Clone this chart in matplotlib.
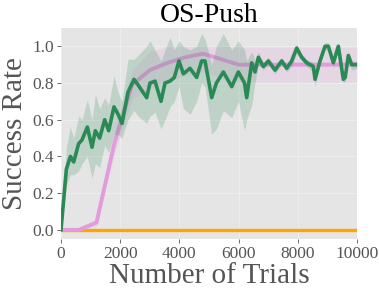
import numpy as np
import matplotlib
matplotlib.use("Agg")
import matplotlib.pyplot as plt

# ---- data ----
green_x = [0, 180, 316, 428, 597, 709, 889, 1047, 1160, 1306, 1475, 1610, 1790, 1926, 2061,
           2263, 2466, 2601, 2894, 3007, 3176, 3378, 3514, 3682, 3828, 3986, 4133, 4358, 4583,
           4750, 4865, 5090, 5250, 5484, 5766, 5991, 6200, 6273, 6442, 6554, 6667, 6836, 7005,
           7230, 7455, 7624, 7793, 7962, 8131, 8300, 8525, 8581, 8750, 8919, 9032, 9200, 9369,
           9538, 9600, 9707, 9820, 10000]
green_y = [0.00, 0.33, 0.40, 0.37, 0.47, 0.49, 0.56, 0.45, 0.54, 0.50, 0.60, 0.54, 0.67, 0.63, 0.58,
           0.75, 0.82, 0.79, 0.72, 0.80, 0.81, 0.70, 0.80, 0.81, 0.83, 0.92, 0.85, 0.88, 0.83,
           0.92, 0.92, 0.72, 0.80, 0.86, 0.78, 0.86, 0.80, 0.72, 0.91, 0.86, 0.94, 0.89, 0.92,
           0.87, 0.92, 0.88, 0.92, 0.99, 0.94, 0.91, 0.89, 0.82, 0.92, 1.00, 1.00, 0.91, 1.00,
           0.82, 0.83, 0.95, 0.90, 0.90]
green_lo = [0.00, 0.24, 0.30, 0.30, 0.32, 0.36, 0.40, 0.28, 0.36, 0.34, 0.46, 0.42, 0.52, 0.52, 0.50,
            0.60, 0.65, 0.62, 0.58, 0.62, 0.64, 0.55, 0.60, 0.67, 0.70, 0.78, 0.66, 0.63, 0.70,
            0.80, 0.78, 0.52, 0.55, 0.65, 0.61, 0.70, 0.54, 0.60, 0.68, 0.80, 0.90, 0.87, 0.90,
            0.85, 0.90, 0.86, 0.89, 0.96, 0.92, 0.89, 0.86, 0.78, 0.90, 0.98, 0.98, 0.89, 0.98,
            0.80, 0.81, 0.92, 0.87, 0.88]
green_hi = [0.00, 0.45, 0.56, 0.50, 0.62, 0.60, 0.71, 0.60, 0.74, 0.66, 0.72, 0.68, 0.84, 0.75, 0.70,
            0.93, 0.93, 0.95, 1.00, 1.03, 0.98, 0.92, 0.98, 1.05, 0.98, 1.03, 1.00, 0.98, 1.00,
            1.07, 1.04, 0.90, 1.00, 1.07, 0.98, 1.03, 0.98, 0.92, 0.97, 0.92, 0.97, 0.91, 0.94,
            0.89, 0.94, 0.90, 0.94, 1.01, 0.96, 0.93, 0.91, 0.85, 0.94, 1.02, 1.02, 0.93, 1.02,
            0.85, 0.86, 0.97, 0.92, 0.92]

pink_x = [0, 600, 1200, 1800, 2400, 3000, 3600, 4200, 4800, 5400, 6000, 6600, 7200, 7800,
          8400, 9000, 9600, 10000]
pink_y = [0.00, 0.00, 0.04, 0.47, 0.79, 0.87, 0.91, 0.94, 0.96, 0.93, 0.90, 0.90, 0.90, 0.90,
          0.90, 0.90, 0.90, 0.90]
pink_std = [0.00, 0.00, 0.02, 0.06, 0.08, 0.10, 0.10, 0.10, 0.10, 0.10, 0.095, 0.095, 0.095,
            0.095, 0.095, 0.095, 0.095, 0.095]

orange_x = [0, 10000]
orange_y = [0.0, 0.0]

title = "OS-Push"
xlabel = "Number of Trials"
ylabel = "Success Rate"
xticks = [0, 2000, 4000, 6000, 8000, 10000]
yticks = [0.0, 0.2, 0.4, 0.6, 0.8, 1.0]

# ---- plot ----
plt.rcParams['font.family'] = ['Liberation Serif', 'DejaVu Serif']
fig = plt.figure(figsize=(3.79, 2.94), dpi=100)
ax = fig.add_axes([0.161, 0.187, 0.781, 0.718])
ax.set_facecolor('#E5E5E5')
for s in ax.spines.values():
    s.set_visible(False)
ax.grid(True, color='#EDEDED', linewidth=0.8)
ax.set_axisbelow(True)

px = np.array(pink_x); py = np.array(pink_y); ps = np.array(pink_std)

orange = '#FFA500'
pink = '#E39BDD'
green = '#2A8A55'

ax.plot(orange_x, orange_y, color=orange, lw=2.4, zorder=2)
ax.fill_between(px, py - ps, np.minimum(py + ps, 1.0), color=pink, alpha=0.2, lw=0, zorder=2)
ax.plot(px, py, color=pink, lw=2.8, zorder=3)
ax.fill_between(green_x, green_lo, green_hi, color=green, alpha=0.2, lw=0, zorder=3)
ax.plot(green_x, green_y, color=green, lw=2.6, zorder=4)

ax.set_xlim(0, 10000)
ax.set_ylim(-0.05, 1.1)
ax.set_xticks(xticks)
ax.set_yticks(yticks)
ax.set_yticklabels([f"{v:.1f}" for v in yticks])
ax.tick_params(colors='#555555', labelsize=12.5, length=3, width=0.6, pad=2)
ax.set_title(title, fontsize=20, color='black', pad=4)
ax.set_xlabel(xlabel, fontsize=21, color='#555555', labelpad=1)
ax.set_ylabel(ylabel, fontsize=21, color='#555555', labelpad=3)

fig.savefig('out.png', dpi=100)
